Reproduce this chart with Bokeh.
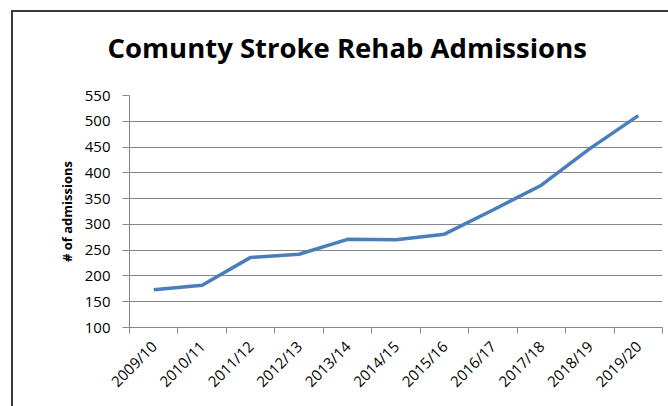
import numpy as np
from bokeh.plotting import figure
from bokeh.models import FixedTicker, Range1d
from bokeh.embed import file_html
from bokeh.resources import INLINE

categories = ["2009/10", "2010/11", "2011/12", "2012/13", "2013/14", "2014/15",
              "2015/16", "2016/17", "2017/18", "2018/19", "2019/20"]
admissions = [173, 182, 236, 242, 271, 270, 281, 328, 376, 447, 511]
y_ticks = [100, 150, 200, 250, 300, 350, 400, 450, 500, 550]

x = np.arange(len(categories)) + 0.5
FONT = "Open Sans"
EDGE = "#3a3a3a"

p = figure(width=668, height=406, output_backend="svg", toolbar_location=None,
           x_range=Range1d(0, len(categories)), y_range=Range1d(100, 550),
           min_border_left=129, min_border_right=6, min_border_top=95, min_border_bottom=79,
           styles={"background": (f"linear-gradient({EDGE},{EDGE}) 11px 10px / 2px 400px no-repeat, "
                                  f"linear-gradient({EDGE},{EDGE}) 11px 10px / 660px 2px no-repeat, #ffffff")})

p.title.text = "Comunty Stroke Rehab Admissions"
p.title.align = "left"
p.title.offset = -22
p.title.vertical_align = "top"
p.title.text_font = FONT
p.title.text_font_size = "27.5px"
p.title.text_font_style = "bold"
p.title.text_color = "black"
p.title.standoff = 56

p.outline_line_color = None
p.background_fill_color = "white"
p.border_fill_color = None

p.line(x, admissions, line_color="#4A7EBB", line_width=3.5)

grid_color = "#868686"
p.xgrid.grid_line_color = None
p.ygrid.grid_line_color = grid_color
p.ygrid.grid_line_width = 1
p.ygrid.ticker = FixedTicker(ticks=y_ticks)

p.yaxis.ticker = FixedTicker(ticks=y_ticks)
p.yaxis.axis_line_color = grid_color
p.yaxis.major_tick_line_color = grid_color
p.yaxis.major_tick_in = 0
p.yaxis.major_tick_out = 7
p.yaxis.minor_tick_line_color = None
p.yaxis.major_label_standoff = 12
p.yaxis.major_label_text_font = FONT
p.yaxis.major_label_text_font_size = "15px"
p.yaxis.major_label_text_color = "black"
p.yaxis.axis_label = "# of admissions"
p.yaxis.axis_label_standoff = 6
p.yaxis.axis_label_text_font = FONT
p.yaxis.axis_label_text_font_style = "bold"
p.yaxis.axis_label_text_font_size = "13px"
p.yaxis.axis_label_text_color = "black"

p.xaxis.ticker = FixedTicker(ticks=list(x), minor_ticks=list(range(len(categories) + 1)))
p.xaxis.major_label_overrides = {float(v): c for v, c in zip(x, categories)}
p.xaxis.major_label_orientation = np.pi / 4
p.xaxis.major_label_standoff = 10
p.xaxis.axis_line_color = grid_color
p.xaxis.major_tick_line_color = None
p.xaxis.minor_tick_line_color = grid_color
p.xaxis.minor_tick_in = 0
p.xaxis.minor_tick_out = 6
p.xaxis.major_label_text_font = FONT
p.xaxis.major_label_text_font_size = "15px"
p.xaxis.major_label_text_color = "black"

open("out.html", "w").write(file_html(p, INLINE))
